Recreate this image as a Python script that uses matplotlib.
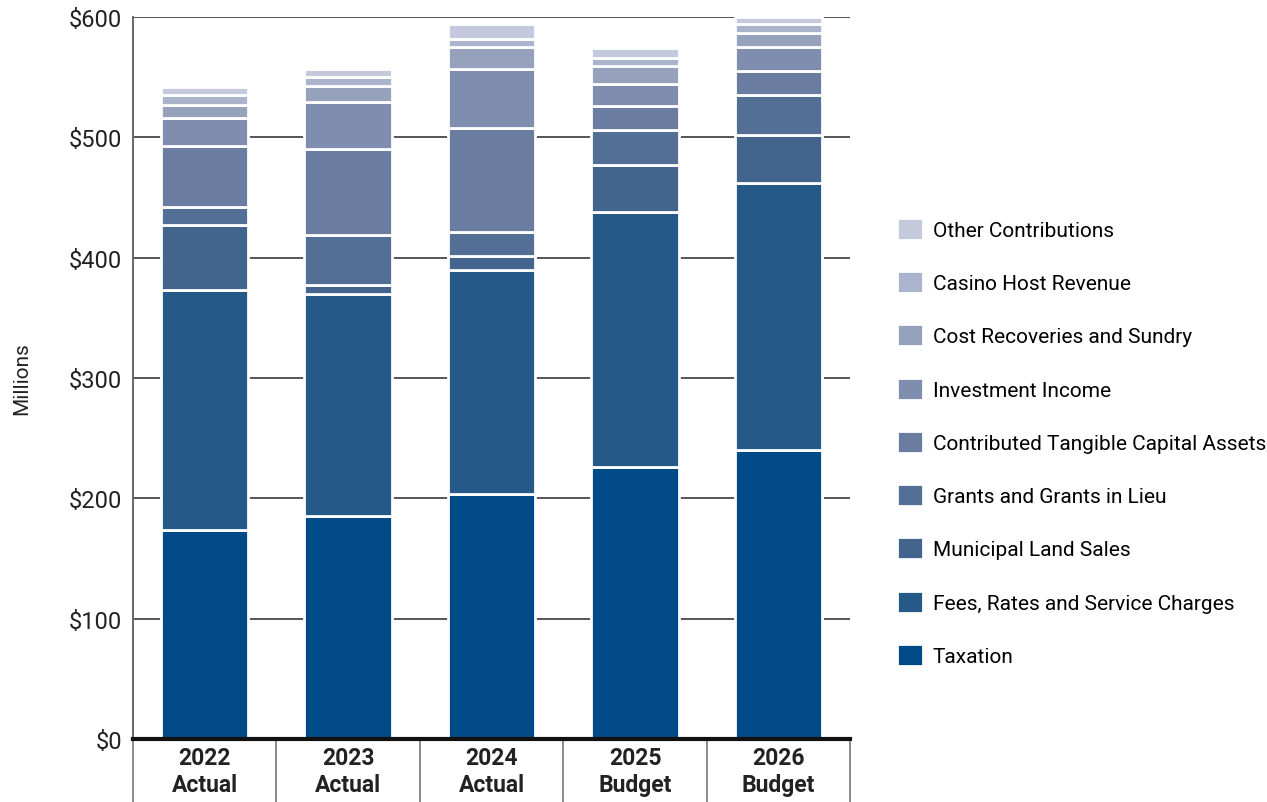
import matplotlib.pyplot as plt
import numpy as np

plt.rcParams['font.family'] = ['Roboto', 'DejaVu Sans']

years = ['2022\nActual', '2023\nActual', '2024\nActual', '2025\nBudget', '2026\nBudget']

# revenue by source, $ millions, stacked bottom to top
taxation = [174, 185, 204, 226, 240]
fees = [199, 185, 186, 212, 222]
land_sales = [54, 7, 11, 39, 40]
grants = [15, 42, 20, 29, 33]
tangible_assets = [51, 71, 87, 20, 20]
investment = [23, 39, 49, 18, 20]
cost_recoveries = [11, 14, 18, 15, 12]
casino = [8, 7, 7, 7, 7]
other = [7, 7, 12, 8, 6]

labels = ['Taxation', 'Fees, Rates and Service Charges', 'Municipal Land Sales',
          'Grants and Grants in Lieu', 'Contributed Tangible Capital Assets',
          'Investment Income', 'Cost Recoveries and Sundry', 'Casino Host Revenue',
          'Other Contributions']
series = [taxation, fees, land_sales, grants, tangible_assets, investment,
          cost_recoveries, casino, other]
colors = ['#004a87', '#255a88', '#42648d', '#536f96', '#6a7c9f',
          '#7f8daf', '#96a1bc', '#abb4cd', '#c4cadb']

fig = plt.figure(figsize=(12.67, 8.03), dpi=100)
ax = fig.add_axes([0.105, 0.0785, 0.566, 0.899])

x = np.arange(len(years))
bottom = np.zeros(len(years))
handles = []
for vals, lab, col in zip(series, labels, colors):
    b = ax.bar(x, vals, 0.61, bottom=bottom, color=col, edgecolor='white',
               linewidth=2, label=lab, zorder=3)
    handles.append(b)
    bottom += np.array(vals)

ax.set_xlim(-0.5, len(years) - 0.5)
ax.set_ylim(0, 600)
ax.set_yticks(range(0, 601, 100))
ax.set_yticklabels(['$' + str(v) for v in range(0, 601, 100)], fontsize=17, color='#222222')
ax.yaxis.grid(True, color='#555555', linewidth=1.4, zorder=1)
ax.tick_params(axis='y', length=0, pad=8)
ax.tick_params(axis='x', length=0, pad=5)
ax.set_xticks(x)
ax.set_xticklabels(years, fontsize=16.5, fontweight='bold', color='#222222', linespacing=1.2)
ax.set_ylabel('Millions', fontsize=15, color='#222222', labelpad=27)

for s in ['top', 'right', 'bottom']:
    ax.spines[s].set_visible(False)
ax.spines['left'].set_color('#666666')
ax.spines['left'].set_linewidth(1.4)

# baseline and category separators below the axis
ax.axhline(0, color='#111111', linewidth=3, zorder=4, clip_on=False)
for xs in np.arange(-0.5, len(years), 1.0):
    ax.plot([xs, xs], [0, -0.088], transform=ax.get_xaxis_transform(),
            color='#777777', linewidth=1.2, clip_on=False)

fig.legend(handles[::-1], labels[::-1], loc='upper left',
           bbox_to_anchor=(0.7015, 0.738), frameon=False, fontsize=15,
           handlelength=1.25, handleheight=1.25, labelspacing=1.5,
           handletextpad=0.45, borderaxespad=0)

fig.savefig('out.png', dpi=100)
